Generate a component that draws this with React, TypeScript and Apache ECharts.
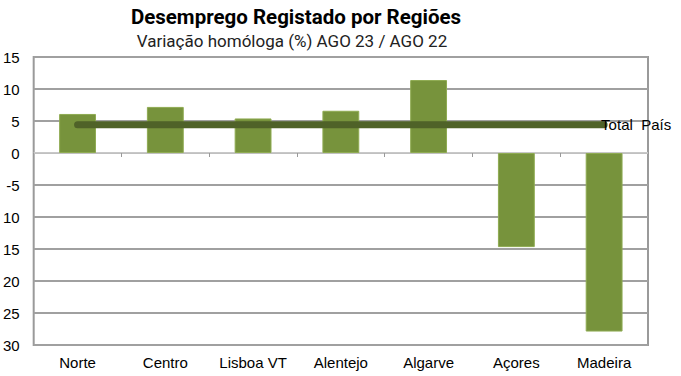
import React, { useEffect, useRef } from "react";
import * as echarts from "echarts";

const categories = ["Norte", "Centro", "Lisboa VT", "Alentejo", "Algarve", "Açores", "Madeira"];
const variation = [6.1, 7.2, 5.4, 6.6, 11.4, -14.7, -27.9];
const totalPais = [4.4, 4.4, 4.4, 4.4, 4.4, 4.4, 4.4];
const totalLabel = "Total  País";
const titleText = "Desemprego Registado por Regiões";
const subtitleText = "Variação homóloga (%) AGO 23 / AGO 22";

export default function App() {
  const ref = useRef<HTMLDivElement>(null);
  useEffect(() => {
    document.body.style.margin = "0";
    if (!ref.current) return;
    const chart = echarts.init(ref.current, null, { renderer: "svg" });
    const gridColors = ["#a0a0a0", "#a0a0a0", "#a0a0a0", "#a0a0a0", "#a0a0a0", "#a0a0a0", "#c8c8c8", "#a0a0a0", "#a0a0a0", "#a0a0a0"];
    chart.setOption({
      animation: false,
      backgroundColor: "#ffffff",
      title: [
        {
          text: titleText,
          left: 291,
          top: 1,
          textAlign: "center",
          textStyle: { fontFamily: "Roboto", fontWeight: "bold", fontSize: 20.5, color: "#000" },
        },
        {
          text: subtitleText,
          left: 287,
          top: 27,
          textAlign: "center",
          textStyle: { fontFamily: "Roboto", fontWeight: "normal", fontSize: 17, color: "#222" },
        },
      ],
      grid: {
        left: 32,
        right: 33,
        top: 57,
        bottom: 31,
        show: true,
        borderColor: "#9a9a9a",
        borderWidth: 2,
        backgroundColor: "transparent",
      },
      xAxis: [
        {
          type: "category",
          data: categories,
          position: "bottom",
          axisLine: { show: false, onZero: false },
          axisTick: { show: false },
          axisLabel: {
            fontFamily: "Liberation Sans",
            fontSize: 15,
            color: "#000",
            margin: 10,
            interval: 0,
          },
        },
        {
          type: "category",
          data: categories,
          position: "bottom",
          axisLine: { show: true, onZero: true, lineStyle: { color: "#c0c0c0", width: 1 } },
          axisTick: { show: true, length: 4, inside: false, lineStyle: { color: "#999", width: 1 } },
          axisLabel: { show: false },
        },
      ],
      yAxis: {
        type: "value",
        min: -30,
        max: 15,
        interval: 5,
        axisLine: { show: false },
        axisTick: { show: false },
        splitLine: { show: true, lineStyle: { color: gridColors, width: 2 } },
        axisLabel: {
          fontFamily: "Liberation Sans",
          fontSize: 15,
          color: "#000",
          margin: 14,
          formatter: (v: number) => (v < -5 ? String(-v) : String(v)),
        },
      },
      series: [
        {
          type: "bar",
          data: variation,
          xAxisIndex: 0,
          barWidth: "42%",
          itemStyle: { color: "#77933c", borderColor: "#8fab52", borderWidth: 1 },
          z: 2,
        },
        {
          type: "line",
          data: totalPais,
          xAxisIndex: 0,
          symbol: "none",
          lineStyle: { color: "#4f6228", width: 7, cap: "round" },
          z: 3,
          endLabel: {
            show: true,
            formatter: () => totalLabel,
            distance: -3,
            fontFamily: "Liberation Sans",
            fontSize: 15,
            color: "#000",
          },
        },
      ],
    });
    return () => chart.dispose();
  }, []);
  return <div ref={ref} style={{ width: 681, height: 376 }} />;
}
